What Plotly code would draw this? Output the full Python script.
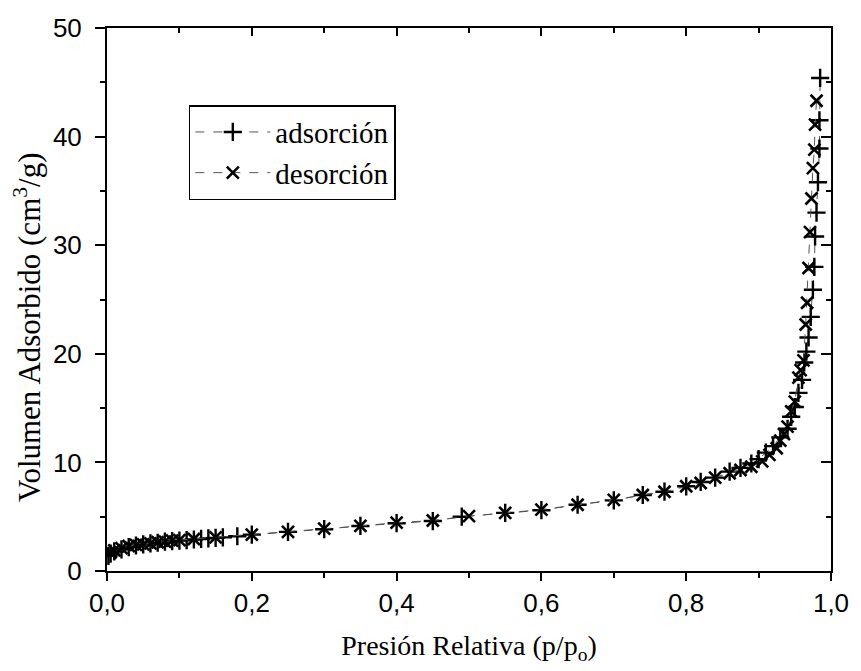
import plotly.graph_objects as go

# Isoterma de adsorción / desorción
ads_x = [0.002, 0.005, 0.01, 0.02, 0.03, 0.04, 0.05, 0.06, 0.07, 0.08, 0.09, 0.10,
         0.11, 0.12, 0.13, 0.14, 0.15, 0.16, 0.18, 0.20, 0.25, 0.30, 0.35, 0.40,
         0.45, 0.49, 0.55, 0.60, 0.65, 0.70, 0.74, 0.77, 0.80, 0.82, 0.84, 0.86,
         0.875, 0.89, 0.90, 0.91, 0.92, 0.93, 0.94, 0.945, 0.95, 0.955, 0.96,
         0.963, 0.966, 0.969, 0.972, 0.975, 0.977, 0.978, 0.980, 0.982, 0.984,
         0.984, 0.985]
ads_y = [1.4, 1.6, 1.8, 2.0, 2.2, 2.35, 2.45, 2.55, 2.6, 2.7, 2.75, 2.8,
         2.85, 2.9, 2.95, 3.0, 3.05, 3.1, 3.2, 3.35, 3.6, 3.85, 4.15, 4.4,
         4.6, 5.0, 5.35, 5.6, 6.1, 6.5, 7.0, 7.3, 7.8, 8.2, 8.6, 9.15,
         9.5, 9.9, 10.3, 10.9, 11.5, 12.3, 13.1, 14.2, 15.1, 16.4, 17.6,
         19.2, 20.2, 21.5, 23.4, 25.9, 28.0, 30.8, 33.0, 35.8, 38.9,
         41.5, 45.4]

des_x = [0.980, 0.978, 0.977, 0.975, 0.973, 0.971, 0.969, 0.967, 0.965, 0.962,
         0.958, 0.955, 0.95, 0.945, 0.94, 0.935, 0.93, 0.925, 0.915, 0.905,
         0.89, 0.875, 0.86, 0.84, 0.82, 0.80, 0.77, 0.74, 0.70, 0.65, 0.60,
         0.55, 0.50, 0.45, 0.40, 0.35, 0.30, 0.25, 0.20, 0.15, 0.12, 0.10,
         0.09, 0.08, 0.07, 0.06, 0.05, 0.04, 0.03, 0.02, 0.01, 0.005]
des_y = [43.3, 41.1, 38.8, 37.1, 34.3, 31.2, 27.9, 24.7, 22.7, 19.4,
         18.5, 17.8, 15.6, 14.7, 13.3, 12.6, 12.0, 11.3, 10.7, 10.1,
         9.6, 9.3, 9.0, 8.6, 8.1, 7.8, 7.3, 7.0, 6.55, 6.1, 5.65,
         5.35, 5.05, 4.65, 4.45, 4.15, 3.9, 3.6, 3.35, 3.1, 2.95, 2.85,
         2.8, 2.7, 2.65, 2.55, 2.45, 2.4, 2.3, 2.1, 1.9, 1.7]

serif = "Liberation Serif, Times New Roman, serif"
sans = "Liberation Sans, Arial, sans-serif"

fig = go.Figure()
fig.add_trace(go.Scatter(
    x=ads_x, y=ads_y, name="adsorción", mode="lines+markers",
    line=dict(color="#555555", width=1, dash="dash"),
    marker=dict(symbol="cross-thin-open", size=13, color="black",
                line=dict(color="black", width=2.4)),
))
fig.add_trace(go.Scatter(
    x=des_x, y=des_y, name="desorción", mode="lines+markers",
    line=dict(color="#555555", width=1, dash="dash"),
    marker=dict(symbol="x-thin-open", size=12, color="black",
                line=dict(color="black", width=2.6)),
))
# empty trace so the top/right frame axes get drawn
fig.add_trace(go.Scatter(x=[], y=[], xaxis="x2", yaxis="y2",
                         showlegend=False, hoverinfo="skip"))

fig.update_layout(
    width=861, height=671,
    margin=dict(l=107, r=24, t=28, b=100),
    paper_bgcolor="white", plot_bgcolor="white",
    separators=",.",
    showlegend=True,
    legend=dict(x=0.113, y=0.858, xanchor="left", yanchor="top",
                bordercolor="black", borderwidth=1.5, bgcolor="white",
                font=dict(family=serif, size=29, color="black"),
                itemwidth=75, tracegroupgap=0),
    xaxis=dict(range=[0, 1.0], dtick=0.2, tickformat=".1f",
               ticks="outside", ticklen=8, tickwidth=2, tickcolor="black",
               minor=dict(dtick=0.1, ticks="outside", ticklen=5, tickwidth=1.5),
               showline=True, linecolor="black", linewidth=2,
               showgrid=False, zeroline=False,
               tickfont=dict(family=sans, size=26, color="black"),
               title=dict(text="Presión Relativa (p/p<sub>o</sub>)", standoff=18,
                          font=dict(family=serif, size=28, color="black"))),
    yaxis=dict(range=[0, 50], dtick=10,
               ticks="outside", ticklen=10, tickwidth=2, tickcolor="black",
               minor=dict(dtick=5, ticks="outside", ticklen=5, tickwidth=1.5),
               showline=True, linecolor="black", linewidth=2,
               showgrid=False, zeroline=False, ticklabelstandoff=8,
               tickfont=dict(family=sans, size=26, color="black")),
    xaxis2=dict(range=[0, 1.0], overlaying="x", side="top", dtick=0.2,
                ticks="inside", ticklen=8, tickwidth=2, tickcolor="black",
                minor=dict(dtick=0.1, ticks="inside", ticklen=5, tickwidth=1.5),
                showticklabels=False, showline=True, linecolor="black",
                linewidth=2, showgrid=False, zeroline=False),
    yaxis2=dict(range=[0, 50], overlaying="y", side="right", dtick=10,
                ticks="inside", ticklen=10, tickwidth=2, tickcolor="black",
                minor=dict(dtick=5, ticks="inside", ticklen=5, tickwidth=1.5),
                showticklabels=False, showline=True, linecolor="black",
                linewidth=2, showgrid=False, zeroline=False),
)

# y-axis title sits a bit below the centre of the axis in the original
fig.add_annotation(
    text="Volumen Adsorbido (cm<sup>3</sup>/g)", textangle=-90,
    xref="paper", yref="paper", x=-0.11, y=0.45,
    xanchor="center", yanchor="middle", showarrow=False,
    font=dict(family=serif, size=31, color="black"),
)

# drop the default body margin so the 861x671 figure fills the window exactly
fig.write_html("out.html", config={"displayModeBar": False},
               post_script="document.body.style.margin='0';")
